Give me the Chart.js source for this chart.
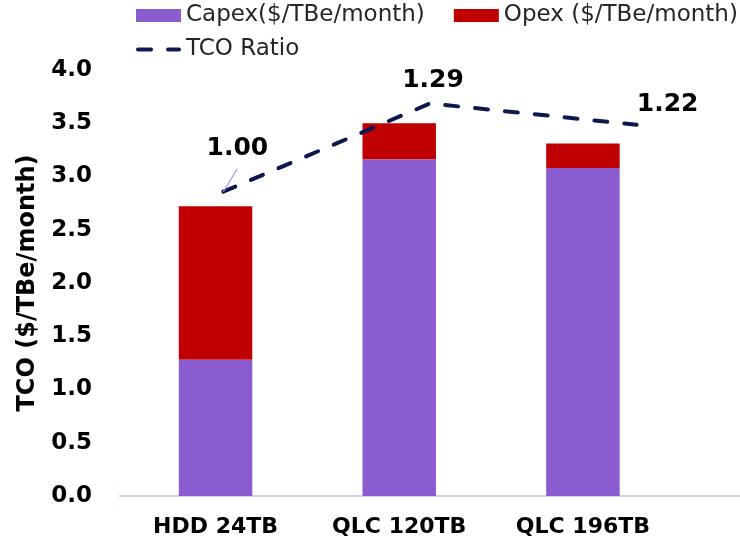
<!DOCTYPE html>
<html>
<head>
<meta charset="utf-8">
<script src="https://cdn.jsdelivr.net/npm/chart.js@4"></script>
<style>
  html, body { margin: 0; padding: 0; background: #ffffff; }
  #wrap { width: 740px; height: 551px; }
</style>
</head>
<body>
<div id="wrap"><canvas id="tco" width="740" height="551"></canvas></div>
<script>
// Drive categories and monthly cost components ($/TBe/month)
const categories = ['HDD 24TB', 'QLC 120TB', 'QLC 196TB'];
const capex = [1.28, 3.16, 3.08];
const opex = [1.44, 0.34, 0.23];
// TCO relative to the HDD baseline
const tcoRatio = [1.00, 1.29, 1.22];
const yTickStep = 0.5;

const PURPLE = '#8B5BD0';
const RED = '#C00000';
const NAVY = '#0E1850';
const FONT = '"DejaVu Sans", sans-serif';

// Label placement for the ratio values: [dx, dy, draw leader line]
const ratioLabelPlacement = [[14, -43, true], [3, -23, false], [31, -20, false]];

const ratioLabels = {
  id: 'ratioLabels',
  afterDatasetsDraw(chart) {
    const idx = chart.data.datasets.findIndex(d => d.type === 'line');
    const meta = chart.getDatasetMeta(idx);
    const values = chart.data.datasets[idx].data;
    const ctx = chart.ctx;
    ctx.save();
    meta.data.forEach((pt, i) => {
      const [dx, dy, leader] = ratioLabelPlacement[i];
      if (leader) {
        ctx.strokeStyle = '#B58DF2';
        ctx.lineWidth = 1.2;
        ctx.setLineDash([]);
        ctx.beginPath();
        ctx.moveTo(pt.x + dx, pt.y + dy + 20);
        ctx.lineTo(pt.x, pt.y);
        ctx.stroke();
      }
      ctx.font = 'bold 25px ' + FONT;
      ctx.fillStyle = '#000000';
      ctx.textAlign = 'center';
      ctx.textBaseline = 'middle';
      ctx.fillText(values[i].toFixed(2), pt.x + dx, pt.y + dy);
    });
    ctx.restore();
  }
};

// Two-row legend: bar swatches on the first row, the dashed ratio line below
const legendRows = {
  id: 'legendRows',
  afterDraw(chart) {
    const ctx = chart.ctx;
    const ds = chart.data.datasets;
    const rows = [[0, 1], [2]];
    ctx.save();
    ctx.font = '23px ' + FONT;
    ctx.textBaseline = 'middle';
    ctx.textAlign = 'left';
    rows.forEach((row, r) => {
      let x = 136;
      const y = 15.5 + r * 34;
      row.forEach(i => {
        const d = ds[i];
        if (d.type === 'line') {
          ctx.strokeStyle = d.borderColor;
          ctx.lineWidth = d.borderWidth;
          ctx.lineCap = 'round';
          ctx.setLineDash(d.borderDash);
          ctx.beginPath();
          ctx.moveTo(x + 2, y);
          ctx.lineTo(x + 43, y);
          ctx.stroke();
          ctx.setLineDash([]);
        } else {
          ctx.fillStyle = d.backgroundColor;
          ctx.fillRect(x, y - 6.5, 45, 13);
        }
        ctx.fillStyle = '#262626';
        ctx.fillText(d.label, x + 50, y);
        x += 50 + ctx.measureText(d.label).width + 29;
      });
    });
    ctx.restore();
  }
};

const barPoints = vals => vals.map((v, i) => ({ x: i, y: v }));

new Chart(document.getElementById('tco'), {
  data: {
    labels: categories,
    datasets: [
      {
        type: 'bar',
        label: 'Capex($/TBe/month)',
        data: barPoints(capex),
        backgroundColor: PURPLE,
        stack: 'cost',
        grouped: false,
        xAxisID: 'x', yAxisID: 'y',
        barPercentage: 0.4, categoryPercentage: 1,
        order: 2
      },
      {
        type: 'bar',
        label: 'Opex ($/TBe/month)',
        data: barPoints(opex),
        backgroundColor: RED,
        stack: 'cost',
        grouped: false,
        xAxisID: 'x', yAxisID: 'y',
        barPercentage: 0.4, categoryPercentage: 1,
        order: 2
      },
      {
        type: 'line',
        label: 'TCO Ratio',
        data: tcoRatio,
        borderColor: NAVY,
        backgroundColor: NAVY,
        borderWidth: 4,
        borderDash: [13, 17],
        borderCapStyle: 'round',
        pointRadius: 0,
        tension: 0,
        fill: false,
        xAxisID: 'x2', yAxisID: 'y2',
        order: 0
      }
    ]
  },
  options: {
    responsive: false,
    devicePixelRatio: 1,
    animation: false,
    layout: { padding: { top: 70, left: 10, right: 0, bottom: 0 } },
    plugins: {
      legend: { display: false },
      tooltip: { enabled: false }
    },
    scales: {
      x: {
        type: 'linear',
        min: -0.52,
        max: 2.855,
        offset: false,
        stacked: true,
        afterBuildTicks: axis => { axis.ticks = categories.map((_, i) => ({ value: i })); },
        afterFit: axis => { axis.height = 55; },
        ticks: {
          autoSkip: false,
          maxRotation: 0,
          padding: 18,
          color: '#000000',
          font: { family: FONT, size: 22, weight: 'bold' },
          callback: v => categories[v]
        },
        grid: { display: false, drawTicks: false, offset: false },
        border: { display: true, color: '#DCC8F4', width: 2 }
      },
      x2: {
        type: 'category',
        display: false,
        offset: true
      },
      y: {
        min: 0,
        max: 4,
        stacked: true,
        afterFit: axis => { axis.width = 110; },
        ticks: {
          stepSize: yTickStep,
          padding: 28,
          color: '#000000',
          font: { family: FONT, size: 23, weight: 'bold' },
          callback: v => Number(v).toFixed(1)
        },
        grid: { display: false, drawTicks: false },
        border: { display: false },
        title: {
          display: true,
          text: 'TCO ($/TBe/month)',
          color: '#000000',
          font: { family: FONT, size: 24, weight: 'bold' },
          padding: { top: 3, bottom: 0 }
        }
      },
      y2: {
        min: 0,
        max: 1.4,
        display: false
      }
    }
  },
  plugins: [ratioLabels, legendRows]
});
</script>
</body>
</html>
